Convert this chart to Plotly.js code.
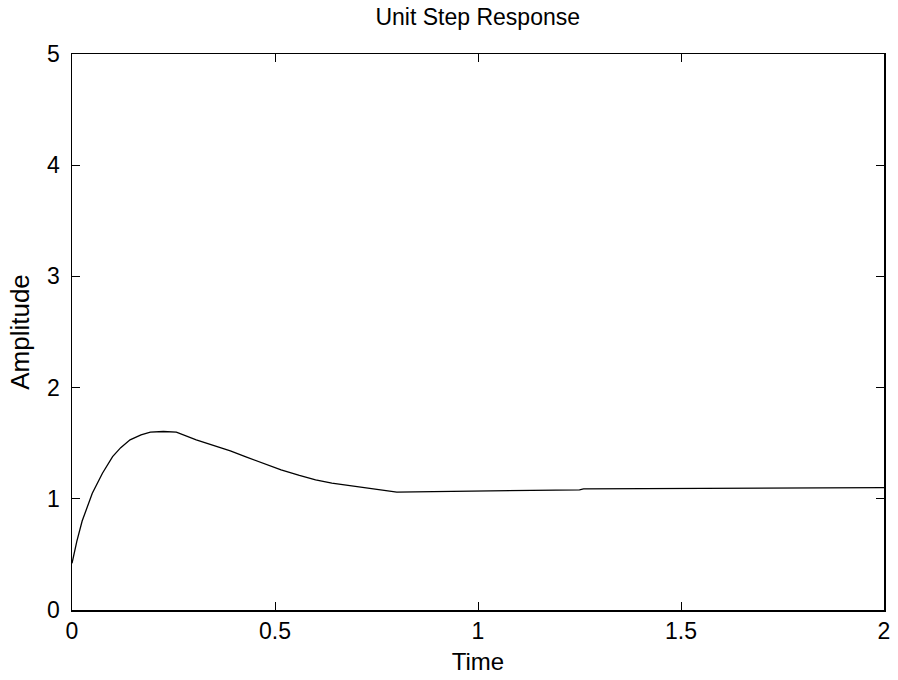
<!DOCTYPE html>
<html>
<head>
<meta charset="utf-8">
<script src="https://cdn.plot.ly/plotly-3.0.1.min.js"></script>
<style>
html,body{margin:0;padding:0;background:#fff;}
#chart{width:898px;height:680px;}
</style>
</head>
<body>
<div id="chart"></div>
<script>
// Time (s)
var timeValues = [0, 0.012, 0.025, 0.04, 0.05, 0.075, 0.10, 0.12, 0.143, 0.17, 0.193, 0.225, 0.257, 0.306, 0.35, 0.39, 0.43, 0.47, 0.515, 0.56, 0.60, 0.64, 0.68, 0.74, 0.80, 0.89, 1.04, 1.17, 1.25, 1.26, 1.54, 2.0];
// Amplitude
var amplitudeValues = [0.42, 0.62, 0.80, 0.96, 1.05, 1.23, 1.38, 1.46, 1.53, 1.575, 1.60, 1.605, 1.60, 1.53, 1.48, 1.43, 1.375, 1.32, 1.26, 1.21, 1.17, 1.14, 1.12, 1.09, 1.06, 1.065, 1.07, 1.075, 1.08, 1.09, 1.095, 1.10];
var xTickVals = [0, 0.5, 1, 1.5, 2];
var xTickText = ['0', '0.5', '1', '1.5', '2'];
var yTickVals = [0, 1, 2, 3, 4, 5];
var yTickText = ['0', '1', '2', '3', '4', '5'];

var fontFamily = '"Liberation Sans", Arial, Helvetica, sans-serif';

var trace = {
  x: timeValues,
  y: amplitudeValues,
  type: 'scatter',
  mode: 'lines',
  line: {color: '#000000', width: 1.3},
  hoverinfo: 'skip'
};

var axisCommon = {
  showgrid: false,
  zeroline: false,
  showline: true,
  linecolor: '#000000',
  linewidth: 1.5,
  mirror: 'ticks',
  ticks: 'inside',
  ticklen: 8,
  tickwidth: 1,
  tickcolor: '#000000',
  tickfont: {family: fontFamily, size: 23, color: '#000000'}
};

var layout = {
  width: 898,
  height: 680,
  margin: {l: 72, r: 14, t: 54, b: 70},
  paper_bgcolor: '#ffffff',
  plot_bgcolor: '#ffffff',
  showlegend: false,
  title: {
    text: 'Unit Step Response',
    font: {family: fontFamily, size: 23, color: '#000000'},
    x: 0.532, xanchor: 'center',
    y: 0.975, yanchor: 'middle'
  },
  xaxis: Object.assign({}, axisCommon, {
    range: [0, 2],
    tickvals: xTickVals,
    ticktext: xTickText,
    title: {text: 'Time', font: {family: fontFamily, size: 24, color: '#000000'}, standoff: 10}
  }),
  yaxis: Object.assign({}, axisCommon, {
    range: [0, 5],
    tickvals: yTickVals,
    ticktext: yTickText,
    ticklabelstandoff: 6,
    title: {text: 'Amplitude', font: {family: fontFamily, size: 26, color: '#000000'}, standoff: 10}
  })
};

Plotly.newPlot('chart', [trace], layout, {displayModeBar: false, staticPlot: true});
</script>
</body>
</html>
